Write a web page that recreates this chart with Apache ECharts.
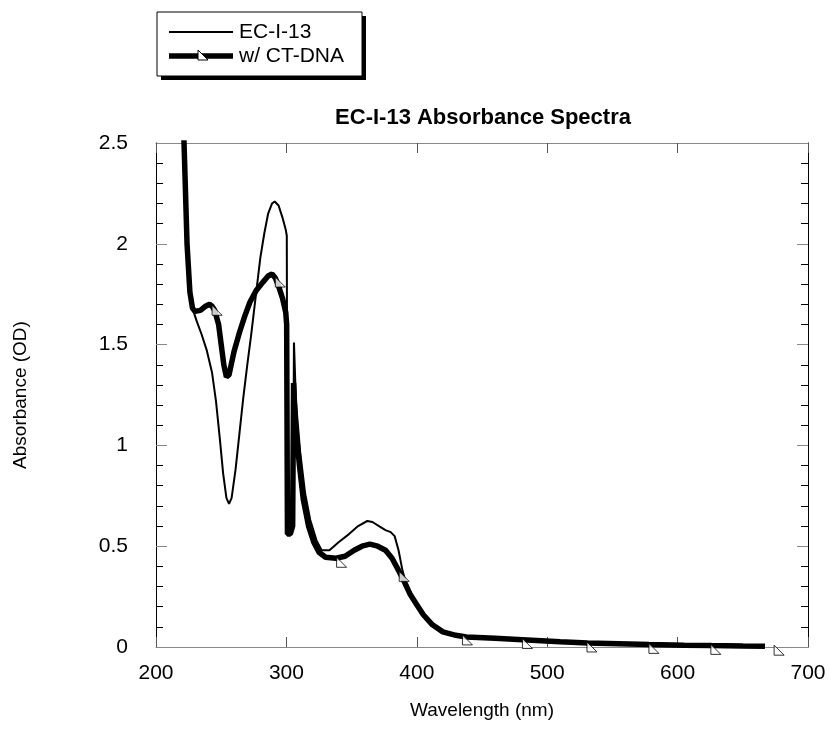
<!DOCTYPE html>
<html>
<head>
<meta charset="utf-8">
<script src="https://cdn.jsdelivr.net/npm/echarts@6/dist/echarts.min.js"></script>
<style>
  html, body { margin: 0; padding: 0; background: #fff; }
  #main { width: 830px; height: 732px; }
</style>
</head>
<body>
<div id="main"></div>
<script>
// EC-I-13 alone
const waveEC = [220, 221.5, 223.8, 226, 229, 231, 235, 239, 243, 246, 249, 251.5, 254, 256, 258, 261, 264, 267, 270, 273, 276.5, 280, 283, 286, 289, 291, 294, 297, 299.5, 300.3, 300.8, 303, 305, 305.8, 307.3, 310.5, 314.4, 318.3, 323, 327, 333, 340, 348, 355, 362, 366, 371, 376, 380, 383, 386, 389, 392, 396, 400, 405, 412, 420, 430, 438, 460, 481, 510, 531, 555, 578, 605, 626, 650, 667];
const absEC = [2.85, 2.5, 2.0, 1.75, 1.66, 1.62, 1.55, 1.47, 1.36, 1.22, 1.03, 0.86, 0.74, 0.71, 0.74, 0.88, 1.06, 1.24, 1.4, 1.55, 1.74, 1.93, 2.05, 2.15, 2.2, 2.21, 2.19, 2.13, 2.07, 2.04, 0.58, 0.57, 0.6, 1.51, 1.22, 0.97, 0.76, 0.63, 0.53, 0.48, 0.48, 0.52, 0.56, 0.6, 0.625, 0.62, 0.6, 0.58, 0.57, 0.55, 0.48, 0.38, 0.31, 0.26, 0.21, 0.16, 0.11, 0.075, 0.058, 0.05, 0.043, 0.036, 0.026, 0.02, 0.016, 0.012, 0.009, 0.007, 0.005, 0.004];

// with CT-DNA
const waveDNA = [220, 221.5, 223.8, 226, 228, 230, 234, 238, 241, 243, 245, 248, 250, 252, 254, 256, 258, 260, 264, 268, 272, 277, 282, 286, 289, 291.5, 294, 297, 299.5, 300.2, 300.8, 303, 304.8, 305.5, 307, 310, 313, 317, 321, 325, 330, 338, 345, 352, 358, 364, 370, 376, 381, 386, 390, 395, 400, 405, 412, 420, 430, 438, 460, 481, 510, 531, 555, 578, 605, 626, 650, 667];
const absDNA = [2.85, 2.5, 2.0, 1.76, 1.68, 1.665, 1.67, 1.69, 1.7, 1.69, 1.67, 1.6, 1.5, 1.4, 1.34, 1.35, 1.41, 1.47, 1.56, 1.64, 1.71, 1.77, 1.81, 1.84, 1.85, 1.83, 1.79, 1.73, 1.66, 1.6, 0.56, 0.56, 0.6, 1.31, 1.1, 0.9, 0.73, 0.6, 0.52, 0.47, 0.445, 0.44, 0.45, 0.48, 0.5, 0.51, 0.5, 0.48, 0.44, 0.38, 0.33, 0.26, 0.21, 0.16, 0.11, 0.075, 0.058, 0.05, 0.043, 0.036, 0.026, 0.02, 0.016, 0.012, 0.009, 0.007, 0.005, 0.004];

// triangle markers on the CT-DNA trace
const markerWave = [243, 291.5, 338.5, 386.5, 435, 481, 530.5, 578, 625.5, 674];
const markerAbs = [1.69, 1.83, 0.44, 0.37, 0.055, 0.037, 0.02, 0.013, 0.008, 0.004];

const xTicks = [200, 300, 400, 500, 600, 700];
const yTicks = [0, 0.5, 1, 1.5, 2, 2.5];

const triangle = 'path://M0,0 L0,10 L10,10 Z';
const font = 'Liberation Sans, Arial, sans-serif';

function pairs(xs, ys) {
  return xs.map((x, i) => [x, ys[i]]);
}

const chart = echarts.init(document.getElementById('main'));

const xBase = {
  type: 'value',
  min: xTicks[0],
  max: xTicks[xTicks.length - 1],
  interval: 100,
  splitLine: { show: false },
  axisLine: { onZero: false, lineStyle: { color: '#888', width: 1 } },
  axisTick: { inside: true, length: 10, lineStyle: { color: '#555' } }
};
const yBase = {
  type: 'value',
  min: yTicks[0],
  max: yTicks[yTicks.length - 1],
  interval: 0.5,
  splitLine: { show: false },
  axisLine: { lineStyle: { color: '#000', width: 1 } },
  axisTick: { inside: true, length: 11, lineStyle: { color: '#888' } },
  minorTick: { show: true, splitNumber: 5, length: 7, lineStyle: { color: '#000' } }
};

chart.setOption({
  animation: false,
  backgroundColor: '#fff',
  title: {
    text: 'EC-I-13 Absorbance Spectra',
    left: 478,
    top: 102,
    textAlign: 'center',
    textStyle: { fontFamily: font, fontSize: 22, fontWeight: 'bold', color: '#000' }
  },
  grid: { left: 156, right: 22, top: 143, bottom: 85 },
  xAxis: [
    Object.assign({}, xBase, {
      position: 'bottom',
      name: 'Wavelength (nm)',
      nameLocation: 'middle',
      nameGap: 54,
      nameTextStyle: { fontFamily: font, fontSize: 19, color: '#000' },
      axisLabel: { margin: 16, fontFamily: font, fontSize: 21, color: '#000' }
    }),
    Object.assign({}, xBase, { position: 'top', axisLabel: { show: false } })
  ],
  yAxis: [
    Object.assign({}, yBase, {
      position: 'left',
      name: 'Absorbance (OD)',
      nameLocation: 'middle',
      nameGap: 126,
      nameTextStyle: { fontFamily: font, fontSize: 19, color: '#000' },
      axisLabel: { margin: 28, fontFamily: font, fontSize: 21, color: '#000' }
    }),
    Object.assign({}, yBase, { position: 'right', axisLabel: { show: false } })
  ],
  series: [
    {
      name: 'EC-I-13',
      type: 'line',
      data: pairs(waveEC, absEC),
      symbol: 'none',
      lineStyle: { color: '#000', width: 2 },
      z: 3
    },
    {
      name: 'w/ CT-DNA',
      type: 'line',
      data: pairs(waveDNA, absDNA),
      symbol: 'none',
      lineStyle: { color: '#000', width: 5.5 },
      z: 2
    },
    {
      name: 'markers',
      type: 'scatter',
      data: pairs(markerWave, markerAbs),
      symbol: triangle,
      symbolSize: 10,
      symbolOffset: [5, 4],
      itemStyle: { color: '#fff', borderColor: '#000', borderWidth: 1 },
      z: 4
    }
  ],
  graphic: [
    { type: 'rect', shape: { x: 161, y: 16, width: 205, height: 64 }, style: { fill: '#000' } },
    { type: 'rect', shape: { x: 157, y: 12, width: 205, height: 64 }, style: { fill: '#fff', stroke: '#000', lineWidth: 1 } },
    { type: 'line', shape: { x1: 169, y1: 32, x2: 233, y2: 32 }, style: { stroke: '#000', lineWidth: 2 } },
    { type: 'line', shape: { x1: 169, y1: 56, x2: 233, y2: 56 }, style: { stroke: '#000', lineWidth: 5.5 } },
    { type: 'polygon', shape: { points: [[198, 50], [198, 60], [208, 60]] }, style: { fill: '#fff', stroke: '#000', lineWidth: 1 } },
    { type: 'text', x: 239, y: 32, style: { text: 'EC-I-13', font: '21px ' + font, fill: '#000', textVerticalAlign: 'middle' } },
    { type: 'text', x: 239, y: 56, style: { text: 'w/ CT-DNA', font: '21px ' + font, fill: '#000', textVerticalAlign: 'middle' } }
  ]
});
</script>
</body>
</html>
